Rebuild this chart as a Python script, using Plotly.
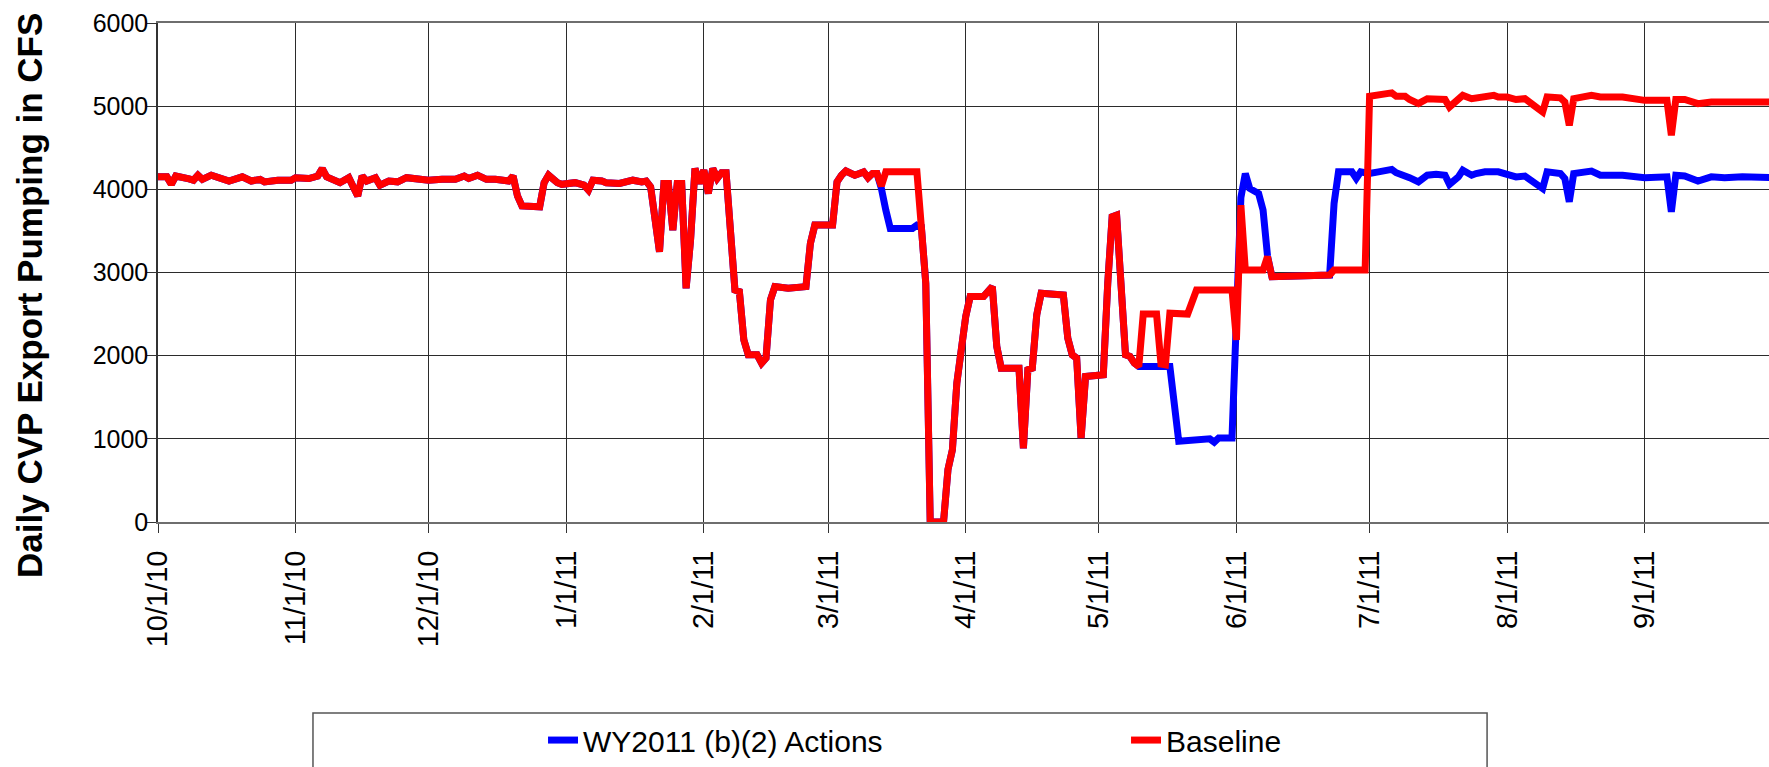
import datetime as dt
import plotly.graph_objects as go

START = dt.date(2010, 10, 1)

# ---- axis ticks ----
tick_dates = ["2010-10-01", "2010-11-01", "2010-12-01", "2011-01-01", "2011-02-01", "2011-03-01",
              "2011-04-01", "2011-05-01", "2011-06-01", "2011-07-01", "2011-08-01", "2011-09-01"]
tick_labels = ["10/1/10", "11/1/10", "12/1/10", "1/1/11", "2/1/11", "3/1/11",
               "4/1/11", "5/1/11", "6/1/11", "7/1/11", "8/1/11", "9/1/11"]
y_ticks = [0, 1000, 2000, 3000, 4000, 5000, 6000]

# ---- Baseline series: day offset from 10/1/10, CFS ----
baseline_days = [0, 2, 3, 4, 7, 8, 9, 10, 12, 14, 16, 19, 21, 23, 24, 27, 30, 31, 34, 36,
                 37, 38, 39, 41, 43, 45, 46, 47, 49, 50, 52, 54, 56, 58, 61, 64, 67, 69, 70, 72,
                 74, 76, 79, 80, 81, 82, 86, 87, 88, 90, 91, 94, 96, 97, 98, 100, 101, 104, 106, 107,
                 109, 110, 111, 113, 114, 115, 116, 117, 118, 119, 120, 121, 122, 123, 124, 125, 126, 127, 128, 129,
                 130, 131, 132, 133, 135, 136, 137, 138, 139, 142, 146, 147, 148, 152, 153, 154, 155, 157, 158, 159,
                 160, 161, 162, 163, 164, 171, 172, 173, 174, 177, 178, 179, 180, 182, 183, 186, 188, 189, 190, 194,
                 195, 196, 197, 198, 199, 204, 205, 206, 207, 208, 209, 213, 214, 215, 216, 217, 218, 219, 220, 221,
                 222, 225, 226, 227, 228, 232, 234, 242, 243, 244, 245, 249, 250, 251, 264, 265, 272, 273, 275, 278,
                 279, 281, 282, 284, 286, 288, 290, 291, 293, 294, 296, 297, 299, 301, 302, 304, 306, 308, 310, 312,
                 313, 316, 317, 318, 319, 323, 325, 330, 335, 340, 341, 342, 344, 347, 350, 353, 357, 364]
baseline_cfs = [4150, 4150, 4060, 4160, 4125, 4110, 4170, 4120, 4170, 4140, 4100, 4150, 4100, 4120, 4090, 4110, 4110, 4140, 4130, 4160,
                4250, 4150, 4120, 4080, 4140, 3920, 4160, 4100, 4140, 4050, 4100, 4090, 4140, 4130, 4110, 4120, 4120, 4160, 4130, 4170,
                4120, 4120, 4100, 4160, 3920, 3800, 3790, 4080, 4170, 4080, 4060, 4080, 4050, 3990, 4110, 4100, 4080, 4070, 4090, 4110,
                4090, 4100, 4030, 3250, 4070, 4070, 3510, 4070, 4070, 2810, 3390, 4250, 4070, 4230, 3950, 4250, 4130, 4200, 4200, 3470,
                2790, 2770, 2190, 2010, 2010, 1910, 1970, 2670, 2830, 2810, 2830, 3350, 3570, 3570, 4090, 4170, 4220, 4170, 4200, 4210,
                4140, 4190, 4190, 4040, 4210, 4210, 3550, 2870, 0, 0, 630, 870, 1670, 2470, 2710, 2710, 2830, 2110, 1850, 1850,
                885, 1830, 1850, 2490, 2750, 2730, 2210, 2010, 1970, 1010, 1750, 1770, 2870, 3670, 3690, 2670, 2010, 1990, 1910, 1870,
                2500, 2500, 1900, 1890, 2510, 2500, 2790, 2790, 2190, 3810, 3030, 3030, 3190, 2950, 2970, 3030, 3030, 5120, 5130, 5160,
                5120, 5120, 5080, 5030, 5090, 5090, 5080, 4990, 5070, 5130, 5090, 5100, 5130, 5130, 5110, 5110, 5080, 5090, 5010, 4930,
                5110, 5100, 5050, 4770, 5090, 5130, 5110, 5110, 5070, 5070, 4650, 5080, 5080, 5030, 5050, 5050, 5060, 5050]

# ---- WY2011 (b)(2) Actions: where it departs from Baseline ----
action_windows = [(162, 172), (221, 251), (264, 364)]
action_days = [162, 163, 164, 165, 170, 171, 172,
               221, 228, 230, 237, 238, 239, 242, 243, 244, 245, 246, 248, 249, 250, 251,
               264, 265, 266, 269, 270, 271, 272, 273, 275, 278, 279, 281, 282, 284, 286, 288,
               290, 291, 293, 294, 296, 297, 299, 302, 304, 306, 308, 310, 312, 313, 316, 317,
               318, 319, 323, 325, 330, 335, 340, 341, 342, 344, 347, 350, 353, 357, 364]
action_cfs = [4190, 4010, 3750, 3530, 3530, 3570, 3550,
              1870, 1870, 970, 1000, 960, 1010, 1010, 2250, 3900, 4190, 4010, 3950, 3750, 3200, 2950,
              2970, 3830, 4210, 4210, 4130, 4210, 4200, 4190, 4210, 4240, 4200, 4170, 4140, 4090, 4170, 4180,
              4170, 4060, 4150, 4230, 4170, 4190, 4210, 4210, 4190, 4150, 4160, 4090, 4010, 4210, 4190, 4130,
              3850, 4190, 4220, 4170, 4170, 4140, 4150, 3730, 4170, 4160, 4100, 4150, 4140, 4150, 4140]


def to_dates(days):
    return [START + dt.timedelta(days=d) for d in days]


base_pts = list(zip(baseline_days, baseline_cfs))
act_pts = [(d, v) for d, v in base_pts if not any(a <= d <= b for a, b in action_windows)]
act_pts += list(zip(action_days, action_cfs))
act_pts.sort()

FONT = "Liberation Sans, Arial, sans-serif"

fig = go.Figure()
fig.add_trace(go.Scatter(
    x=to_dates([p[0] for p in act_pts]), y=[p[1] for p in act_pts],
    mode="lines", name="WY2011 (b)(2) Actions",
    line=dict(color="#0000FF", width=7),
))
fig.add_trace(go.Scatter(
    x=to_dates(baseline_days), y=baseline_cfs,
    mode="lines", name="Baseline",
    line=dict(color="#FF0000", width=7),
))

x_end = START + dt.timedelta(days=363)

fig.update_layout(
    width=1769, height=767,
    margin=dict(l=158, r=0, t=23, b=245, pad=0),
    paper_bgcolor="white", plot_bgcolor="white",
    font=dict(family=FONT, color="black"),
    showlegend=True,
    legend=dict(
        orientation="h", x=0.239, xanchor="left", y=-0.437, yanchor="middle",
        font=dict(size=30, family=FONT, color="black"),
        bgcolor="rgba(0,0,0,0)", borderwidth=0,
        entrywidth=538, entrywidthmode="pixels",
    ),
    xaxis=dict(
        type="date", range=[START.isoformat(), x_end.isoformat()],
        tickmode="array", tickvals=tick_dates, ticktext=tick_labels,
        tickangle=-90, tickfont=dict(size=29, family=FONT, color="black"),
        ticks="outside", ticklen=9, tickcolor="#333", tickwidth=1,
        showgrid=True, gridcolor="#2b2b2b", gridwidth=1,
        showline=True, linecolor="#6e6e6e", linewidth=2, mirror=True,
        zeroline=False, ticklabelstandoff=6,
    ),
    yaxis=dict(
        range=[0, 6000], tickmode="array", tickvals=y_ticks,
        tickfont=dict(size=25, family=FONT, color="black"),
        ticks="outside", ticklen=9, tickcolor="#333", tickwidth=1,
        showgrid=True, gridcolor="#2b2b2b", gridwidth=1,
        showline=True, linecolor="#333", linewidth=1.5,
        zeroline=False, ticklabelstandoff=-6,
    ),
    annotations=[dict(
        text="<b>Daily CVP Export Pumping in CFS</b>", textangle=-90,
        xref="paper", yref="paper", x=0, y=0.453, xshift=-128,
        xanchor="center", yanchor="middle", showarrow=False,
        font=dict(size=35, family=FONT, color="black"),
    )],
    shapes=[dict(
        type="rect", xref="paper", yref="paper",
        x0=0.0962, x1=0.8250, y0=-0.3828, y1=-0.65,
        line=dict(color="#555", width=1.5), fillcolor="rgba(0,0,0,0)",
    )],
)

fig.write_html("out.html", config={"displayModeBar": False},
               post_script="document.body.style.margin='0';")
